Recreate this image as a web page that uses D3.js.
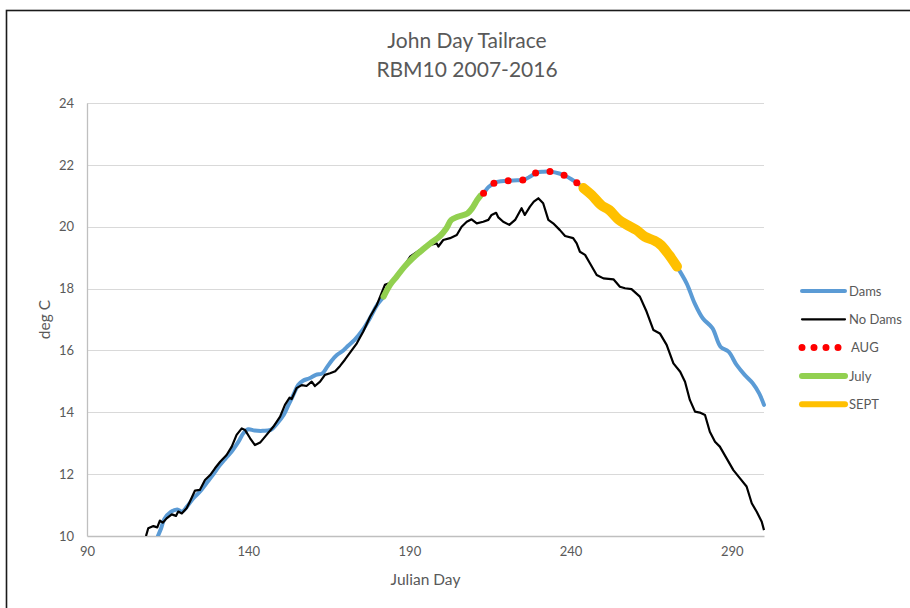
<!DOCTYPE html>
<html>
<head>
<meta charset="utf-8">
<script src="https://cdn.jsdelivr.net/npm/d3@7"></script>
<style>
  html, body { margin: 0; padding: 0; background: #fff; }
  svg { display: block; }
  text { font-family: Lato, "Open Sans", "Liberation Sans", sans-serif; fill: #595959; }
</style>
</head>
<body>
<svg id="chart" width="910" height="608"></svg>
<script>
// ---------------- DATA ----------------
const titleLines = ["John Day Tailrace", "RBM10 2007-2016"];
const xTicks = [90, 140, 190, 240, 290];
const yTicks = [10, 12, 14, 16, 18, 20, 22, 24];

// Dams (blue) : Julian day, deg C
const damsDays = [112, 113, 114, 116, 118, 119.5, 121, 123, 125, 127, 129, 131, 133, 135, 137, 138.5, 140, 142, 144.5, 147, 149, 151, 152.5, 154, 155.5, 157, 159, 161, 163, 164.5, 166, 167.5, 169.5, 171, 173, 175.5, 178, 180, 182, 184, 186, 188.5, 191, 194, 196.5, 199.5, 201.5, 203, 205, 208, 209.5, 211, 212, 213, 214.5, 216.5, 218.5, 221, 223.5, 225.6, 227.5, 229.5, 231.5, 234, 236.5, 238.5, 240.5, 242.5, 243, 244, 246.5, 249.5, 252, 255, 257.5, 260.5, 263, 266, 268, 270.5, 273, 276, 278.5, 281, 284, 286.5, 289, 291.5, 294, 296.5, 298.5, 300];
const damsTemps = [10.0, 10.25, 10.55, 10.78, 10.86, 10.79, 10.95, 11.22, 11.43, 11.70, 11.97, 12.26, 12.51, 12.75, 13.05, 13.32, 13.45, 13.41, 13.40, 13.43, 13.64, 13.91, 14.24, 14.56, 14.88, 15.02, 15.10, 15.21, 15.26, 15.47, 15.68, 15.85, 16.0, 16.15, 16.34, 16.66, 17.09, 17.47, 17.74, 18.12, 18.38, 18.71, 18.98, 19.25, 19.46, 19.70, 19.95, 20.22, 20.32, 20.43, 20.60, 20.86, 21.0, 21.08, 21.28, 21.42, 21.47, 21.49, 21.50, 21.52, 21.62, 21.75, 21.78, 21.78, 21.72, 21.64, 21.52, 21.38, 21.33, 21.25, 21.03, 20.70, 20.54, 20.22, 20.06, 19.89, 19.68, 19.55, 19.41, 19.09, 18.71, 18.17, 17.52, 17.04, 16.72, 16.12, 15.96, 15.53, 15.21, 14.94, 14.61, 14.24];

// No Dams (black)
const noDamsDays = [108.3, 109, 110.6, 111.8, 112.6, 113.5, 114.7, 116.3, 117.6, 118.3, 119.4, 120.9, 121.9, 123.5, 125, 126.6, 128.2, 129.7, 131.3, 133.3, 134.9, 136.4, 138, 139, 140.6, 142.1, 143.7, 145.7, 147.8, 149.9, 151.4, 152.8, 153.5, 155, 156.6, 158.1, 159.7, 160.7, 162.3, 163.8, 165.4, 167, 168.5, 170, 172.1, 173.7, 175.7, 177.8, 179.9, 182.4, 185, 187.6, 190.2, 193.3, 196.4, 198.5, 199, 200.5, 202.6, 204.7, 206.2, 207.8, 209.3, 210.9, 212.9, 214.5, 215.5, 216.9, 217.6, 219.1, 221, 222.8, 224.8, 225.8, 227.4, 228.6, 230, 231.5, 233.1, 234.6, 236.7, 238.3, 240.8, 241.9, 242.9, 244.5, 246, 248.1, 250.2, 253.3, 255.3, 256.9, 258.9, 261.5, 263.6, 265.7, 267.7, 269.8, 271.9, 274, 275.5, 277, 278.6, 280.1, 281.7, 283.2, 284.8, 286.3, 288.4, 290.5, 292.5, 294.6, 296.2, 297.7, 299.3, 300];
const noDamsTemps = [10.0, 10.25, 10.32, 10.28, 10.50, 10.43, 10.57, 10.70, 10.65, 10.79, 10.73, 10.90, 11.11, 11.47, 11.49, 11.81, 11.97, 12.19, 12.40, 12.62, 12.89, 13.27, 13.48, 13.43, 13.16, 12.94, 13.02, 13.27, 13.53, 13.86, 14.24, 14.47, 14.43, 14.78, 14.88, 14.85, 14.99, 14.85, 14.99, 15.21, 15.26, 15.33, 15.50, 15.70, 16.0, 16.23, 16.61, 17.09, 17.47, 18.12, 18.22, 18.60, 19.03, 19.25, 19.41, 19.46, 19.36, 19.57, 19.63, 19.73, 20.0, 20.16, 20.24, 20.11, 20.16, 20.22, 20.38, 20.45, 20.30, 20.16, 20.06, 20.22, 20.60, 20.38, 20.65, 20.81, 20.92, 20.76, 20.22, 20.11, 19.89, 19.70, 19.63, 19.46, 19.19, 19.09, 18.82, 18.44, 18.33, 18.30, 18.06, 18.01, 17.98, 17.74, 17.25, 16.66, 16.55, 16.18, 15.58, 15.31, 14.99, 14.40, 14.02, 13.99, 13.91, 13.37, 13.05, 12.89, 12.51, 12.13, 11.87, 11.60, 11.06, 10.79, 10.46, 10.19];

// Month highlight series (Julian day ranges drawn over the Dams curve)
const monthNames = ["AUG", "July", "SEPT"];
const monthStart = [213, 182, 244];
const monthEnd = [243, 212, 273];

const legendNames = ["Dams", "No Dams", "AUG", "July", "SEPT"];

// ---------------- CHART ----------------
const svg = d3.select("#chart");
const x = d3.scaleLinear().domain([90, 300]).range([87, 764]);
const y = d3.scaleLinear().domain([10, 24]).range([536, 103]);

// outer frame
svg.append("rect").attr("x", 6.5).attr("y", 10.5).attr("width", 1000).attr("height", 1000)
  .attr("fill", "none").attr("stroke", "#1a1a1a").attr("stroke-width", 1.6);

// title
svg.selectAll("text.title").data(titleLines).join("text")
  .attr("class", "title")
  .attr("x", 467).attr("y", (d, i) => 48 + i * 29)
  .attr("text-anchor", "middle")
  .style("font-size", "21px")
  .text(d => d);

// gridlines
svg.append("g").selectAll("line").data(yTicks.filter(t => t !== 10)).join("line")
  .attr("x1", x(90)).attr("x2", x(300))
  .attr("y1", d => Math.round(y(d)) + 0.5).attr("y2", d => Math.round(y(d)) + 0.5)
  .attr("stroke", "#d9d9d9").attr("stroke-width", 1);

// axes (library axes, styled)
const yAxis = svg.append("g").attr("transform", `translate(${x(90)},0)`)
  .call(d3.axisLeft(y).tickValues(yTicks).tickSize(0).tickPadding(13));
const xAxis = svg.append("g").attr("transform", `translate(0,${y(10)})`)
  .call(d3.axisBottom(x).tickValues(xTicks).tickSize(0).tickPadding(11));
[xAxis, yAxis].forEach(g => {
  g.select(".domain").attr("stroke", "#bfbfbf").attr("stroke-width", 1.3);
  g.selectAll("text").style("font-size", "13px").attr("fill", "#595959")
    .style("font-family", 'Lato, "Open Sans", sans-serif');
});

// axis titles
svg.append("text").attr("x", (x(90) + x(300)) / 2).attr("y", 585)
  .attr("text-anchor", "middle").style("font-size", "15.5px").text("Julian Day");
svg.append("text").attr("transform", `translate(50,${(y(10) + y(24)) / 2}) rotate(-90)`)
  .attr("text-anchor", "middle").style("font-size", "15.5px").text("deg C");

// clip
svg.append("clipPath").attr("id", "plotclip").append("rect")
  .attr("x", x(90)).attr("y", y(24) - 10).attr("width", x(300) - x(90) + 4).attr("height", y(10) - y(24) + 10);

const line = d3.line().x(d => x(d[0])).y(d => y(d[1])).curve(d3.curveCatmullRom.alpha(0.5));
const lineLin = d3.line().x(d => x(d[0])).y(d => y(d[1]));

const dams = damsDays.map((d, i) => [d, damsTemps[i]]);
const noDams = noDamsDays.map((d, i) => [d, noDamsTemps[i]]);
const plot = svg.append("g").attr("clip-path", "url(#plotclip)");

plot.append("path").datum(dams).attr("d", line)
  .attr("fill", "none").attr("stroke", "#5b9bd5").attr("stroke-width", 4)
  .attr("stroke-linejoin", "round").attr("stroke-linecap", "round");
plot.append("path").datum(noDams).attr("d", lineLin)
  .attr("fill", "none").attr("stroke", "#000").attr("stroke-width", 2.2)
  .attr("stroke-linejoin", "round");

const styles = {
  "AUG": { stroke: "#ff0000", width: 7, dash: "0 14.6" },
  "July": { stroke: "#92d050", width: 6, dash: null },
  "SEPT": { stroke: "#ffc000", width: 10, dash: null }
};
// draw July, SEPT, then AUG on top
["July", "SEPT", "AUG"].forEach(name => {
  const i = monthNames.indexOf(name);
  const pts = dams.filter(p => p[0] >= monthStart[i] && p[0] <= monthEnd[i]);
  const st = styles[name];
  const p = plot.append("path").datum(pts).attr("d", line)
    .attr("fill", "none").attr("stroke", st.stroke).attr("stroke-width", st.width)
    .attr("stroke-linecap", "round").attr("stroke-linejoin", "round");
  if (st.dash) p.attr("stroke-dasharray", st.dash);
});

// legend
const legendStyle = {
  "Dams": { stroke: "#5b9bd5", width: 4, dash: null },
  "No Dams": { stroke: "#000", width: 2.2, dash: null },
  "AUG": { stroke: "#ff0000", width: 7, dash: "0 12" },
  "July": { stroke: "#92d050", width: 6, dash: null },
  "SEPT": { stroke: "#ffc000", width: 6, dash: null }
};
const lg = svg.append("g");
legendNames.forEach((name, i) => {
  const yy = 291 + i * 28.3;
  const st = legendStyle[name];
  const isDot = !!st.dash;
  const l = lg.append("line")
    .attr("x1", 802).attr("x2", isDot ? 838.5 : 845)
    .attr("y1", yy).attr("y2", yy)
    .attr("stroke", st.stroke).attr("stroke-width", st.width)
    .attr("stroke-linecap", "round");
  if (st.dash) l.attr("stroke-dasharray", st.dash);
  lg.append("text").attr("x", name === "AUG" ? 851 : 849).attr("y", yy + 4.7)
    .style("font-size", "13px").text(name);
});
</script>
</body>
</html>
